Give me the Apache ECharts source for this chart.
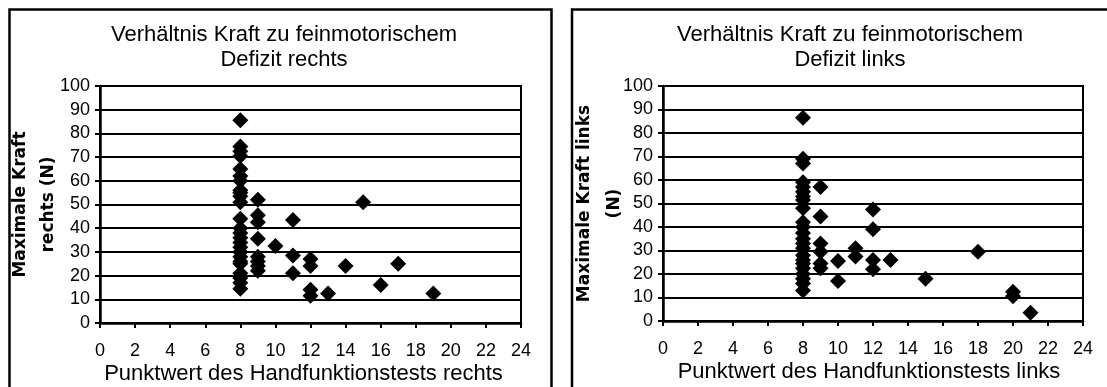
<!DOCTYPE html>
<html>
<head>
<meta charset="utf-8">
<script src="https://cdn.jsdelivr.net/npm/echarts@6/dist/echarts.min.js"></script>
<style>
  html, body { margin: 0; padding: 0; background: #fff; }
  #chart { width: 1107px; height: 387px; }
</style>
</head>
<body>
<div id="chart"></div>
<script>
// Handfunktionstest (Punktwert) und maximale Kraft (N), rechte Hand
const scoreRechts = [
  8, 8, 8, 8, 8, 8, 8, 8, 8, 8, 8, 8, 8, 8, 8, 8, 8, 8, 8, 8, 8, 8, 8, 8, 8,
  9, 9, 9, 9, 9, 9, 9, 9,
  10,
  11, 11, 11,
  12, 12, 12, 12,
  13, 14, 15, 16, 17, 19
];
const kraftRechts = [
  85.5, 74.5, 72.5, 70.5, 65, 62, 60, 56, 55, 53.5, 51, 44, 40, 38, 36, 34, 32, 30, 28, 26, 25, 21, 19, 17, 14.5,
  52, 45.5, 42.5, 35.5, 28, 26, 24, 22,
  32.5,
  43.5, 28.5, 21,
  27, 24, 14, 11.5,
  12.5, 24, 51, 16, 25, 12.5
];

// Handfunktionstest (Punktwert) und maximale Kraft (N), linke Hand
const scoreLinks = [
  8, 8, 8, 8, 8, 8, 8, 8, 8, 8, 8, 8, 8, 8, 8, 8, 8, 8, 8, 8, 8, 8, 8,
  9, 9, 9, 9, 9, 9,
  10, 10,
  11, 11,
  12, 12, 12, 12,
  13, 15, 18, 20, 20, 21
];
const kraftLinks = [
  86.5, 69, 67, 59, 57, 55, 53, 51.5, 48, 42, 40, 37.5, 35, 33, 31, 28, 26, 24.5, 22.5, 20, 18, 16, 13,
  57, 44.5, 33, 29.5, 24.5, 22.5,
  25.5, 17,
  31, 27.5,
  47.5, 39, 26, 22,
  26, 18, 29.5, 12.5, 10.5, 3.5
];

const titles = [
  'Verhältnis Kraft zu feinmotorischem\nDefizit rechts',
  'Verhältnis Kraft zu feinmotorischem\nDefizit links'
];
const xNames = ['Punktwert des Handfunktionstests rechts', 'Punktwert des Handfunktionstests links'];
const yNames = ['Maximale Kraft\nrechts (N)', 'Maximale Kraft links\n(N)'];

const toPairs = (xs, ys) => xs.map((x, i) => [x, ys[i]]);

const FONT = 'Liberation Sans, Arial, sans-serif';

const grids = [
  { left: 100, top: 86, width: 421, height: 237 },
  { left: 663, top: 86, width: 420, height: 235 }
];
const titleCenters = [279, 845];
const xNamePads = [[0, 14, 0, 0], [0, 8, 0, 0]];
const yNameGaps = [37, 33];
const yNameLineHeights = [28, 30];

function xAxisFor(i) {
  return {
    type: 'value', gridIndex: i, min: 0, max: 24, interval: 2,
    name: xNames[i], nameLocation: 'middle', nameGap: 40, nameMoveOverlap: false,
    nameTextStyle: { fontFamily: FONT, fontSize: 22, color: '#000', padding: xNamePads[i] },
    axisLine: { show: true, onZero: false, lineStyle: { color: '#000', width: 2.5 } },
    axisTick: { show: true, inside: false, length: 5, lineStyle: { color: '#000', width: 2 } },
    axisLabel: { margin: 19, fontFamily: FONT, fontSize: 18, color: '#000' },
    splitLine: { show: false }
  };
}

function yAxisFor(i) {
  return {
    type: 'value', gridIndex: i, min: 0, max: 100, interval: 10,
    name: yNames[i], nameLocation: 'middle', nameRotate: 90, nameGap: yNameGaps[i],
    nameMoveOverlap: false,
    nameTextStyle: {
      fontFamily: 'DejaVu Sans, sans-serif', fontWeight: 'bold', fontSize: 17,
      color: '#000', lineHeight: yNameLineHeights[i], align: 'center'
    },
    axisLine: { show: true, lineStyle: { color: '#000', width: 2.5 } },
    axisTick: { show: true, inside: false, length: 5, lineStyle: { color: '#000', width: 2 } },
    axisLabel: { margin: 10, fontFamily: FONT, fontSize: 18, color: '#000' },
    splitLine: { show: true, lineStyle: { color: '#000', width: 2 } }
  };
}

const chart = echarts.init(document.getElementById('chart'), null, { renderer: 'canvas' });

chart.setOption({
  animation: false,
  backgroundColor: '#fff',
  title: titles.map((t, i) => ({
    text: t,
    left: titleCenters[i], top: 17,
    textAlign: 'center',
    textStyle: { fontFamily: FONT, fontSize: 22, fontWeight: 'normal', color: '#000', lineHeight: 25 }
  })),
  grid: grids.map(g => Object.assign({
    show: true, borderColor: '#000', borderWidth: 2, backgroundColor: '#fff',
    containLabel: false, outerBoundsMode: 'none'
  }, g)),
  xAxis: [xAxisFor(0), xAxisFor(1)],
  yAxis: [yAxisFor(0), yAxisFor(1)],
  graphic: [
    { type: 'rect', shape: { x: 9.5, y: 9.5, width: 542, height: 420 }, style: { fill: null, stroke: '#000', lineWidth: 2.5 }, z: 100 },
    { type: 'rect', shape: { x: 572, y: 9.5, width: 542, height: 420 }, style: { fill: null, stroke: '#000', lineWidth: 2.5 }, z: 100 }
  ],
  series: [
    {
      type: 'scatter', xAxisIndex: 0, yAxisIndex: 0,
      symbol: 'diamond', symbolSize: 16,
      itemStyle: { color: '#000', opacity: 1 },
      data: toPairs(scoreRechts, kraftRechts)
    },
    {
      type: 'scatter', xAxisIndex: 1, yAxisIndex: 1,
      symbol: 'diamond', symbolSize: 16,
      itemStyle: { color: '#000', opacity: 1 },
      data: toPairs(scoreLinks, kraftLinks)
    }
  ]
});
</script>
</body>
</html>
